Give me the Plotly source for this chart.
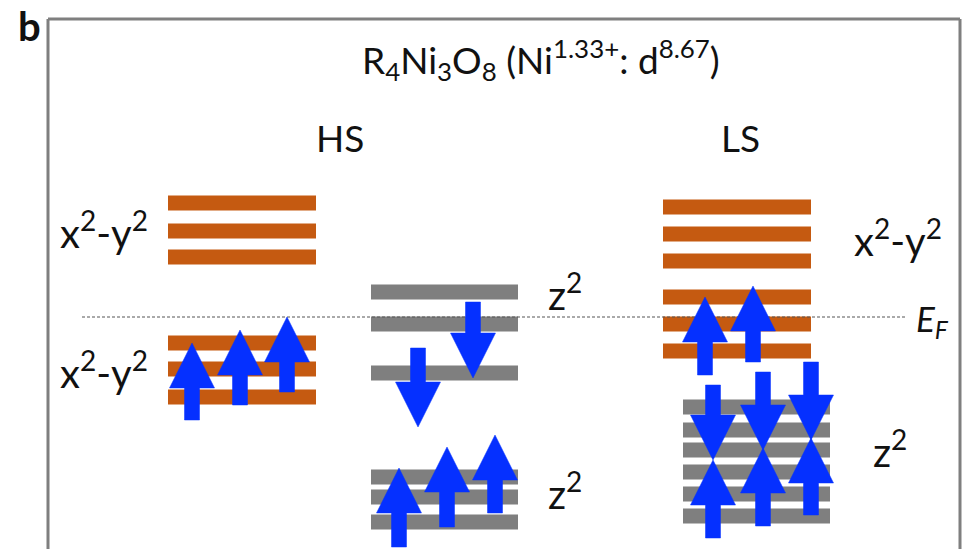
import plotly.graph_objects as go

# ---- data (energies, E_F = 0; arbitrary units) ----
hs_xy_levels = [114, 86, 60, -26, -52, -80]          # HS x2-y2 levels
hs_z_levels = [25, -7, -56, -160, -180, -205]        # HS z2 levels
ls_xy_levels = [110, 83, 56, 20, -7, -34]            # LS x2-y2 levels
ls_z_levels = [-90, -113, -133, -155, -177, -199]    # LS z2 levels

# column extents (horizontal position in diagram units)
hs_xy_span = (168, 316)
hs_z_span = (371, 518)
ls_xy_span = (663, 811)
ls_z_span = (683, 830)

# arrows: (x, tail energy, tip energy)
arrows = [
    (192, -103, -26), (240, -88, -13), (287, -75, 0),      # HS up on x2-y2
    (473, 15, -61), (418, -31, -110),                     # HS down on z2
    (399, -230, -151), (447, -210, -130), (495, -196, -118),  # HS up on z2
    (705, -58, 20), (753, -45, 31),                       # LS up on x2-y2
    (713, -68, -143), (763, -55, -133), (811, -45, -123), # LS down on z2
    (713, -221, -143), (763, -209, -131), (811, -198, -121),  # LS up on z2
]

ORANGE = "#C55A11"
GRAY = "#7F7F7F"
BLUE = "#0530FF"
FONT = "Lato"
BAR_W = 15
HEAD_L, HEAD_W, SHAFT_W = 45, 45, 15

fig = go.Figure()

def add_levels(levels, span, color):
    xs, ys = [], []
    for e in levels:
        xs += [span[0], span[1], None]
        ys += [e, e, None]
    fig.add_trace(go.Scatter(x=xs, y=ys, mode="lines",
                             line=dict(color=color, width=BAR_W),
                             hoverinfo="skip", showlegend=False))

add_levels(hs_xy_levels, hs_xy_span, ORANGE)
add_levels(hs_z_levels, hs_z_span, GRAY)
add_levels(ls_xy_levels, ls_xy_span, ORANGE)
add_levels(ls_z_levels, ls_z_span, GRAY)

# Fermi level
fig.add_trace(go.Scatter(x=[82, 906], y=[0, 0], mode="lines",
                         line=dict(color="#555555", width=1, dash="3px,2px"),
                         hoverinfo="skip", showlegend=False))

for (x, tail, tip) in arrows:
    d = 1 if tip > tail else -1
    base = tip - d * HEAD_L
    xs = [x - SHAFT_W / 2, x - SHAFT_W / 2, x - HEAD_W / 2, x, x + HEAD_W / 2,
          x + SHAFT_W / 2, x + SHAFT_W / 2, x - SHAFT_W / 2]
    ys = [tail, base, base, tip, base, base, tail, tail]
    fig.add_trace(go.Scatter(x=xs, y=ys, mode="lines", fill="toself",
                             fillcolor=BLUE, line=dict(color=BLUE, width=0.5),
                             hoverinfo="skip", showlegend=False))

# frame (open at bottom)
frame_col = "#7F7F7F"
fig.add_shape(type="line", x0=48, x1=48, y0=-240, y1=298, line=dict(color=frame_col, width=3))
fig.add_shape(type="line", x0=48, x1=960, y0=298, y1=298, line=dict(color=frame_col, width=3))
fig.add_shape(type="line", x0=960, x1=960, y0=-240, y1=298, line=dict(color=frame_col, width=3))

def txt(x, y, s, size, **kw):
    fig.add_annotation(x=x, y=y, text=s, showarrow=False, xref="x", yref="y",
                       font=dict(family=FONT, size=size, color="#111111"),
                       xanchor=kw.get("xanchor", "center"), yanchor="middle")

txt(29, 291, "<b>b</b>", 40)
txt(541, 258, "R<sub>4</sub>Ni<sub>3</sub>O<sub>8</sub> (Ni<sup>1.33+</sup>: d<sup>8.67</sup>)", 37)
txt(340, 180, "HS", 37)
txt(740, 180, "LS", 37)
txt(104, 87, "x<sup>2</sup>-y<sup>2</sup>", 40)
txt(104, -53, "x<sup>2</sup>-y<sup>2</sup>", 40)
txt(898, 79, "x<sup>2</sup>-y<sup>2</sup>", 40)
txt(565, 25, "z<sup>2</sup>", 40)
txt(565, -174, "z<sup>2</sup>", 40)
txt(890, -132, "z<sup>2</sup>", 40)
txt(932, -3, "<i>E<sub>F</sub></i>", 35)

fig.update_layout(
    width=969, height=549, margin=dict(l=0, r=0, t=0, b=0),
    paper_bgcolor="white", plot_bgcolor="white",
    xaxis=dict(range=[0, 969], visible=False, fixedrange=True),
    yaxis=dict(range=[-232, 317], visible=False, fixedrange=True),
)
fig.write_html("out.html")
